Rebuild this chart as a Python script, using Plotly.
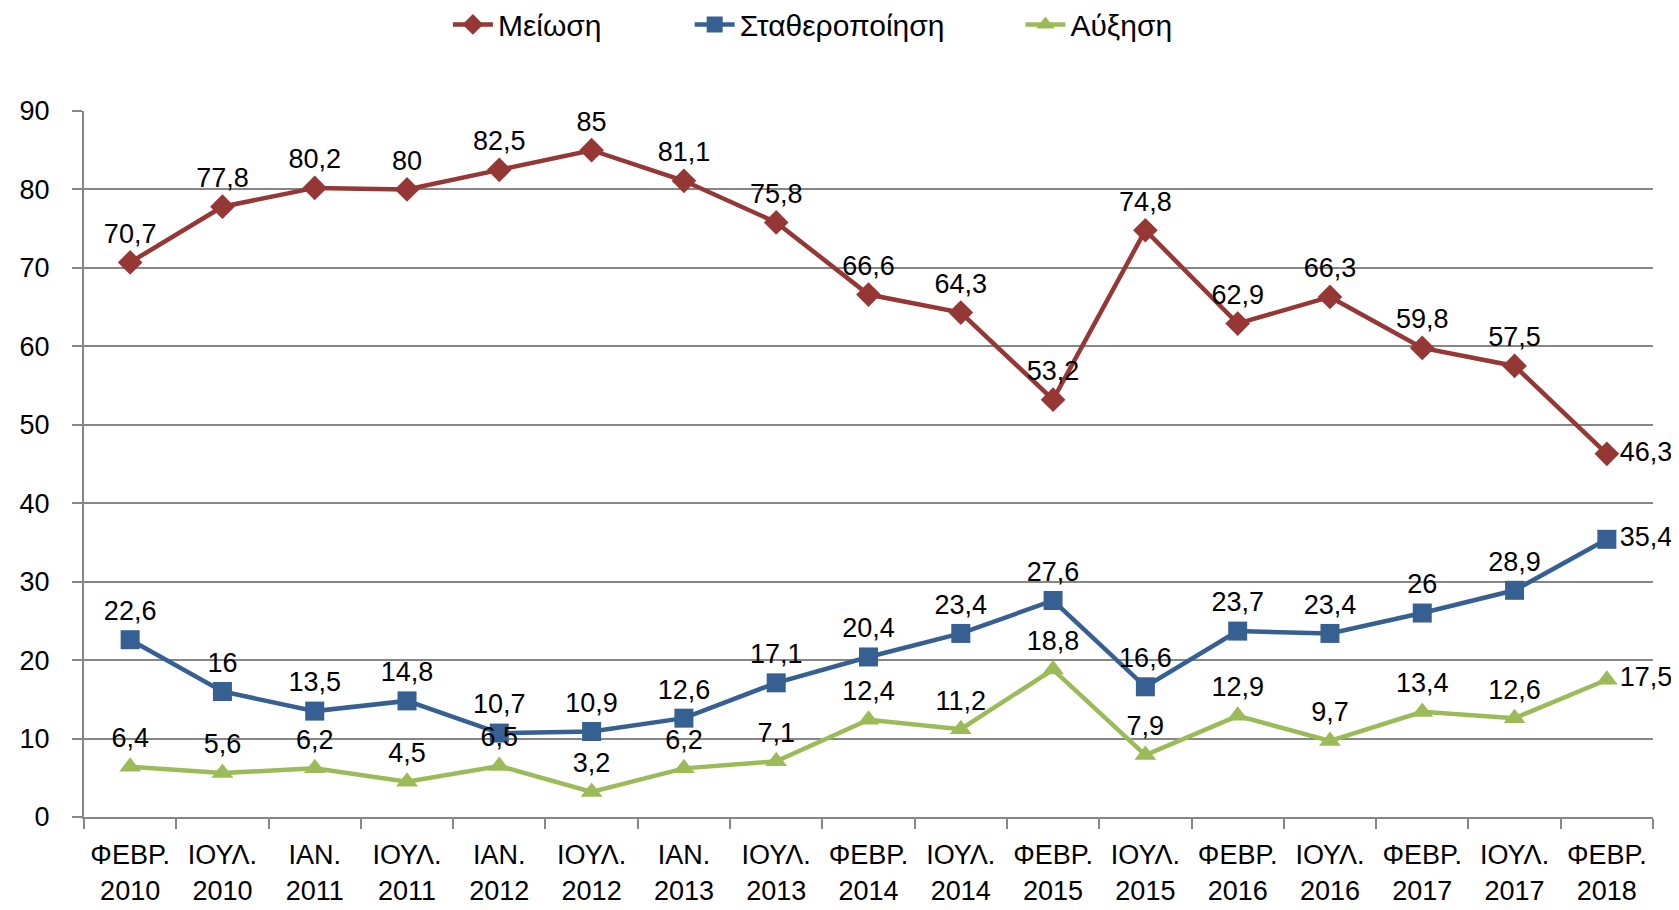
import plotly.graph_objects as go

months = ["ΦΕΒΡ.", "ΙΟΥΛ.", "ΙΑΝ.", "ΙΟΥΛ.", "ΙΑΝ.", "ΙΟΥΛ.", "ΙΑΝ.", "ΙΟΥΛ.", "ΦΕΒΡ.",
          "ΙΟΥΛ.", "ΦΕΒΡ.", "ΙΟΥΛ.", "ΦΕΒΡ.", "ΙΟΥΛ.", "ΦΕΒΡ.", "ΙΟΥΛ.", "ΦΕΒΡ."]
years = ["2010", "2010", "2011", "2011", "2012", "2012", "2013", "2013", "2014",
         "2014", "2015", "2015", "2016", "2016", "2017", "2017", "2018"]
categories = [m + "<br>" + y for m, y in zip(months, years)]

meiosi = [70.7, 77.8, 80.2, 80, 82.5, 85, 81.1, 75.8, 66.6, 64.3, 53.2, 74.8, 62.9, 66.3, 59.8, 57.5, 46.3]
stathero = [22.6, 16, 13.5, 14.8, 10.7, 10.9, 12.6, 17.1, 20.4, 23.4, 27.6, 16.6, 23.7, 23.4, 26, 28.9, 35.4]
afxisi = [6.4, 5.6, 6.2, 4.5, 6.5, 3.2, 6.2, 7.1, 12.4, 11.2, 18.8, 7.9, 12.9, 9.7, 13.4, 12.6, 17.5]

FONT = "Liberation Sans"
FS = 27


def fmt(v):
    return ("%g" % v).replace(".", ",")


def positions(n):
    return ["top center"] * (n - 1) + ["middle right"]


# name, values, colour, marker, legend id, legend x (container)
series = [
    ("Μείωση", meiosi, "#953735", "diamond", "legend", 0.262),
    ("Σταθεροποίηση", stathero, "#376092", "square", "legend2", 0.406),
    ("Αύξηση", afxisi, "#9BBB59", "triangle-up", "legend3", 0.603),
]

fig = go.Figure()
legends = {}
for name, vals, color, sym, lg, lx in series:
    fig.add_trace(go.Scatter(
        x=categories, y=vals, name=name, mode="lines+markers+text",
        line=dict(color=color, width=4.5),
        marker=dict(symbol=sym, size=19, color=color),
        text=[fmt(v) for v in vals],
        textposition=positions(len(vals)),
        textfont=dict(family=FONT, size=FS, color="black"),
        cliponaxis=False, legend=lg,
    ))
    legends[lg] = dict(x=lx, xref="container", xanchor="left",
                       y=0.982, yref="container", yanchor="middle",
                       orientation="h", font=dict(size=30), itemwidth=40,
                       bgcolor="rgba(0,0,0,0)")

fig.update_layout(
    width=1679, height=910,
    paper_bgcolor="white", plot_bgcolor="white",
    margin=dict(l=67, r=34, t=103, b=98),
    font=dict(family=FONT, size=FS, color="black"),
    showlegend=True,
    **legends,
)
fig.update_xaxes(
    type="category", range=[-0.5, 16.5],
    showline=True, linecolor="#868686", linewidth=2,
    ticks="outside", tickson="boundaries", ticklen=10, tickcolor="#868686", tickwidth=2,
    showgrid=False, tickfont=dict(size=FS), ticklabelstandoff=13,
)
fig.update_yaxes(
    range=[0, 90], dtick=10,
    showline=True, linecolor="#868686", linewidth=2,
    showgrid=True, gridcolor="#868686", gridwidth=1.5,
    ticks="outside", ticklen=10, tickcolor="#868686", tickwidth=2,
    ticklabelstandoff=17, tickfont=dict(size=FS), zeroline=False,
)

fig.write_html("out.html")
